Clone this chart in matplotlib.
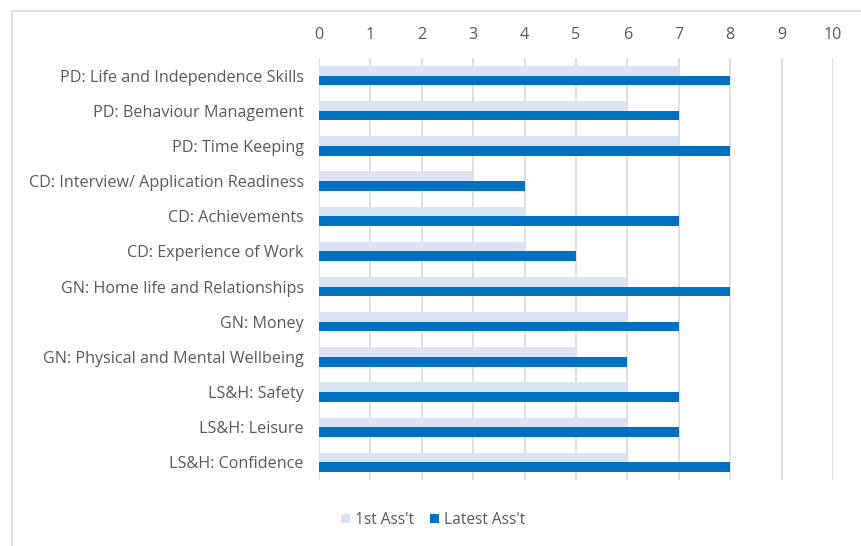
import matplotlib.pyplot as plt
import numpy as np
from matplotlib.patches import Rectangle

# Assessment scores per area
categories = [
    "PD: Life and Independence Skills",
    "PD: Behaviour Management",
    "PD: Time Keeping",
    "CD: Interview/ Application Readiness",
    "CD: Achievements",
    "CD: Experience of Work",
    "GN: Home life and Relationships",
    "GN: Money",
    "GN: Physical and Mental Wellbeing",
    "LS&H: Safety",
    "LS&H: Leisure",
    "LS&H: Confidence",
]
first_assessment = [7, 6, 7, 3, 4, 4, 6, 6, 5, 6, 6, 6]
latest_assessment = [8, 7, 8, 4, 7, 5, 8, 7, 6, 7, 7, 8]
x_ticks = list(range(0, 11))

light_color = "#dae3f3"
dark_color = "#0070c0"
text_color = "#595959"
grid_color = "#d9d9d9"

plt.rcParams["font.family"] = ["Open Sans", "DejaVu Sans"]

fig = plt.figure(figsize=(8.61, 5.46), dpi=100)

# chart-area border (cropped on right and bottom in the reference)
fig.patches.append(Rectangle((12 / 861, -0.1), 1.2, 1 - 11 / 546 + 0.1,
                             transform=fig.transFigure, fill=False,
                             edgecolor=grid_color, linewidth=1.2))

ax = fig.add_axes([319 / 861, 1 - 480 / 546, (833 - 319) / 861, (480 - 58) / 546])

y = np.arange(len(categories))
h = 0.275
ax.barh(y - h / 2, first_assessment, height=h, color=light_color, label="1st Ass't", zorder=2)
ax.barh(y + h / 2, latest_assessment, height=h, color=dark_color, label="Latest Ass't", zorder=2)

ax.set_xlim(0, 10)
ax.set_ylim(len(categories) - 0.5, -0.5)
ax.set_xticks(x_ticks)
ax.set_yticks(y)
ax.set_yticklabels(categories)
ax.xaxis.tick_top()
ax.tick_params(axis="both", length=0, colors=text_color, labelsize=11.6)
ax.tick_params(axis="x", pad=11)
ax.tick_params(axis="y", pad=11)
for s in ax.spines.values():
    s.set_visible(False)
ax.set_axisbelow(True)
ax.grid(axis="x", color=grid_color, linewidth=1.2)

leg = fig.legend(loc="center", bbox_to_anchor=(433 / 861, 1 - 520 / 546), ncol=2,
                 frameon=False, fontsize=11.2, handlelength=0.6, handleheight=0.6,
                 handletextpad=0.3, columnspacing=1.0)
for t in leg.get_texts():
    t.set_color(text_color)

fig.savefig("out.png", dpi=100)
